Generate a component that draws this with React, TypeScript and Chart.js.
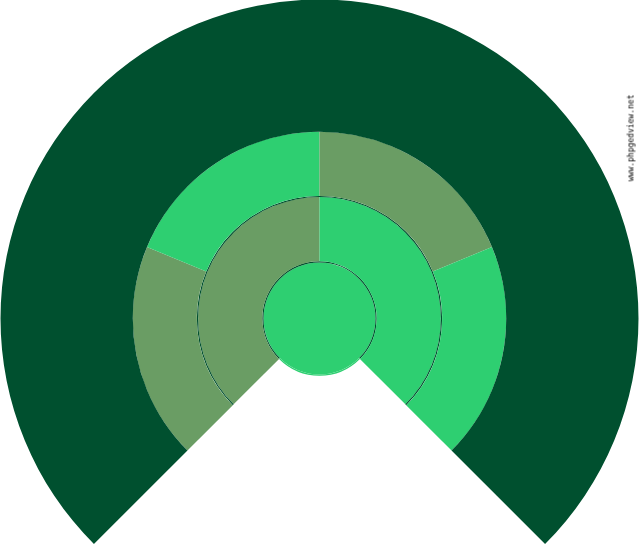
import { useEffect, useRef } from "react";
import { Chart, registerables } from "chart.js";

Chart.register(...registerables);

// fan chart rings, outermost first
const outerValues = [1];
const ring2Values = [1, 1, 1, 1];
const ring1Values = [1, 1];
const centerValues = [1];

const DARK = "#00502f";
const OLIVE = "#6a9d64";
const GREEN = "#2ecf71";

export default function App() {
  const chartRef = useRef<HTMLCanvasElement | null>(null);

  useEffect(() => {
    document.body.style.margin = "0";
    const canvas = chartRef.current;
    if (!canvas) return;
    const ctx = canvas.getContext("2d");
    if (!ctx) return;

    const fan = { rotation: -135, circumference: 270, borderWidth: 0, clip: false as const };
    const full = { rotation: -135, circumference: 360, borderWidth: 0, clip: false as const };

    const chart = new Chart(ctx, {
      type: "doughnut",
      data: {
        datasets: [
          { ...fan, data: outerValues, backgroundColor: [DARK], weight: 132.3 },
          { ...fan, data: ring2Values, backgroundColor: [OLIVE, GREEN, OLIVE, GREEN], weight: 64.1 },
          { ...fan, data: [1], backgroundColor: [DARK], weight: 1.2 },
          { ...fan, data: ring1Values, backgroundColor: [OLIVE, GREEN], weight: 64.2 },
          // thin outline round the centre, only over the fan part
          { ...full, data: [270, 90], backgroundColor: [DARK, GREEN], weight: 1.2 },
          { ...full, data: centerValues, backgroundColor: [GREEN], weight: 56 },
        ],
      },
      options: {
        animation: false,
        responsive: false,
        cutout: 0,
        radius: 319,
        layout: { padding: { top: 87, bottom: 0, left: 0, right: 1 } },
        plugins: {
          legend: { display: false },
          tooltip: { enabled: false },
        },
      },
    });

    return () => {
      chart.destroy();
    };
  }, []);

  return (
    <div style={{ position: "relative", width: 640, height: 550, background: "#fff" }}>
      <canvas ref={chartRef} width={640} height={550} style={{ display: "block" }}></canvas>
      <span
        style={{
          position: "absolute",
          left: 631,
          top: 138,
          transform: "translate(-50%, -50%) rotate(-90deg)",
          fontFamily: "DejaVu Sans Mono",
          fontSize: 8,
          color: "#000",
          whiteSpace: "nowrap",
        }}
      >
        www.phpgedview.net
      </span>
    </div>
  );
}
